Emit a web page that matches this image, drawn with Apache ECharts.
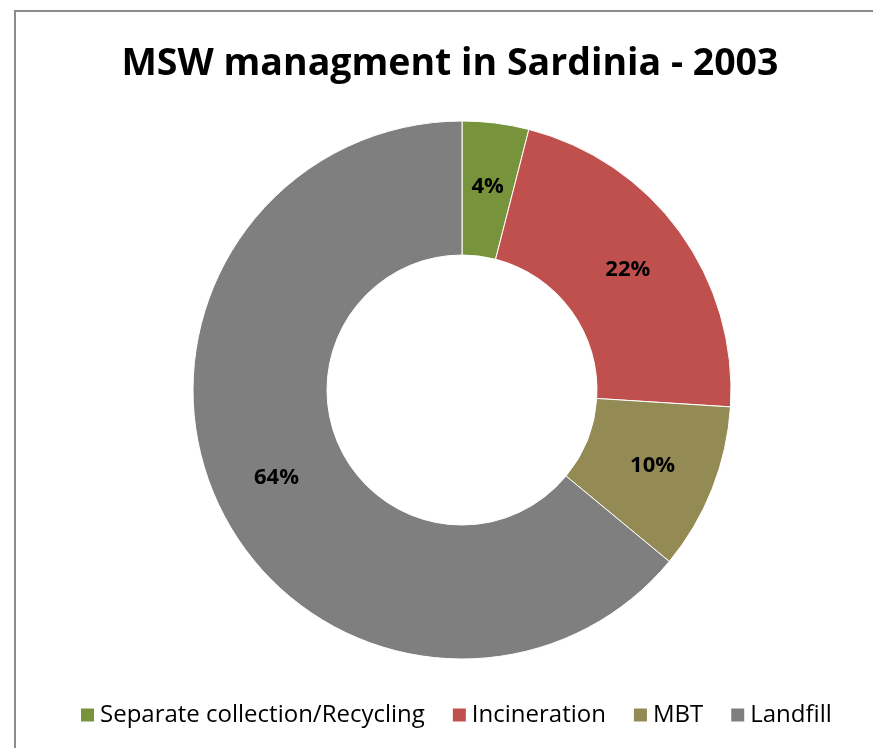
<!DOCTYPE html>
<html><head><meta charset="utf-8">
<script src="https://cdn.jsdelivr.net/npm/echarts@6/dist/echarts.min.js"></script>
<style>html,body{margin:0;padding:0;background:#fff}#c{width:873px;height:748px}
#frame{position:absolute;left:14px;top:10px;width:880px;height:760px;border:2px solid #8c8c8c;box-sizing:border-box;pointer-events:none}</style>
</head><body><div id="c"></div><div id="frame"></div>
<script>
const categories = ["Separate collection/Recycling", "Incineration", "MBT", "Landfill"];
const values = [4, 22, 10, 64];
const colors = ["#77933C", "#C0504D", "#948A54", "#7F7F7F"];
const titleText = "MSW managment in Sardinia - 2003";

const chart = echarts.init(document.getElementById('c'));
chart.setOption({
  animation: false,
  backgroundColor: '#fff',
  title: {
    text: titleText, left: 445, textAlign: 'center', top: 40,
    textStyle: {fontFamily: 'Open Sans', fontWeight: 'bold', fontSize: 37.5, color: '#000'}
  },
  legend: {
    bottom: 16, left: 74, itemWidth: 15, itemHeight: 15, itemGap: 26,
    icon: 'rect',
    textStyle: {fontFamily: 'Open Sans', fontSize: 24, color: '#000'},
    data: categories
  },
  series: [{
    type: 'pie', center: [462, 390], radius: [135, 269],
    startAngle: 90, clockwise: true,
    label: {show: true, position: 'inside', formatter: '{d}%', fontFamily: 'Open Sans', fontWeight: 'bold', fontSize: 22, color: '#000'},
    labelLine: {show: false},
    itemStyle: {borderColor: '#fff', borderWidth: 1},
    emphasis: {disabled: true},
    data: categories.map((c, i) => ({name: c, value: values[i], itemStyle: {color: colors[i]}}))
  }]
});
</script></body></html>
